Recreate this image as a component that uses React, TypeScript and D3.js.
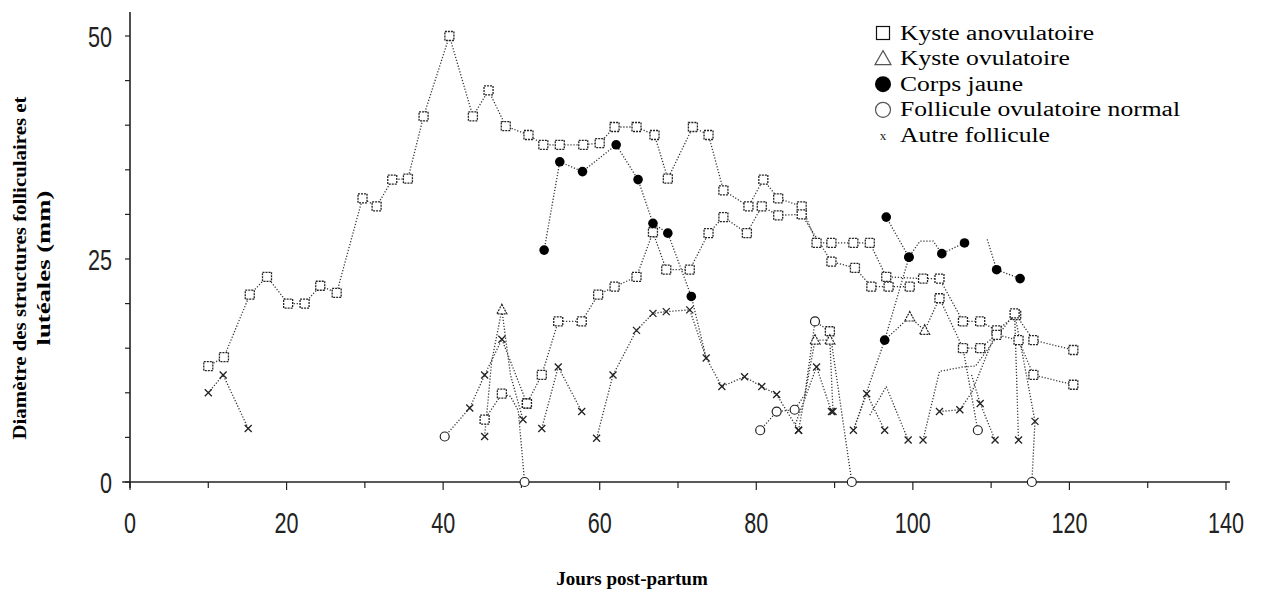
import React from "react";
import * as d3 from "d3";

type Pt = [number, number, string];

// S = kyste anovulatoire, T = kyste ovulatoire, F = corps jaune, O = follicule ovulatoire normal, X = autre follicule, "-" = no marker
const serieA: Pt[] = [[10,13,"S"],[12,14,"S"],[15.3,21,"S"],[17.5,23,"S"],[20.2,20,"S"],[22.3,20,"S"],[24.3,22,"S"],[26.4,21.2,"S"],[29.7,31.8,"S"],[31.5,30.9,"S"],[33.5,33.9,"S"],[35.5,34,"S"],[37.5,41,"S"],[40.8,50,"S"],[43.8,41,"S"],[45.8,43.9,"S"],[48,39.9,"S"],[50.9,38.9,"S"],[52.8,37.8,"S"],[54.9,37.8,"S"],[57.9,37.8,"S"],[60,38,"S"],[61.9,39.8,"S"],[64.7,39.8,"S"],[67,38.9,"S"],[68.7,34,"S"],[71.9,39.8,"S"],[73.9,38.9,"S"],[75.8,32.7,"S"],[79,30.9,"S"],[80.9,33.9,"S"],[82.8,31.8,"S"],[85.8,30.9,"S"],[87.7,26.8,"S"],[89.6,26.8,"S"],[92.4,26.8,"S"],[94.5,26.8,"S"],[96.6,23,"S"],[101.3,22.8,"S"],[103.4,22.8,"S"],[106.4,18,"S"],[108.6,18,"S"],[110.7,17,"S"],[113.2,18.7,"S"],[115.4,15.9,"S"],[120.5,14.8,"S"]];
const serieB: Pt[] = [[50.7,8.8,"S"],[52.6,12,"S"],[54.7,18,"S"],[57.7,18,"S"],[59.8,21,"S"],[61.9,21.9,"S"],[64.7,23,"S"],[66.8,28,"S"],[68.5,23.8,"S"],[71.5,23.8,"S"],[73.9,27.9,"S"],[75.8,29.7,"S"],[78.8,27.9,"S"],[80.7,30.9,"S"],[82.8,29.9,"S"],[85.8,30,"S"],[89.6,24.7,"S"],[92.6,24,"S"],[94.7,21.9,"S"],[96.9,21.9,"S"],[99.6,21.9,"S"]];
const serieC: Pt[] = [[10,10,"X"],[11.9,12,"X"],[15.1,6,"X"]];
const serieD: Pt[] = [[40.2,5.1,"O"],[43.4,8.3,"X"],[45.3,12,"X"],[47.5,16,"X"],[50.7,8.8,"S"]];
const serieE: Pt[] = [[45.3,5.1,"X"],[46.2,13.5,"-"],[47.5,19.3,"T"],[48.6,12,"-"],[50.2,7,"X"]];
const serieF: Pt[] = [[45.3,7,"S"],[47.5,9.9,"S"],[48.6,9.6,"-"],[49.6,8,"-"],[50.4,0,"O"]];
const serieG: Pt[] = [[52.6,6,"X"],[54.7,12.9,"X"],[57.7,7.9,"X"]];
const serieH: Pt[] = [[59.6,4.9,"X"],[61.7,12,"X"],[64.7,17,"X"],[66.8,18.9,"X"],[68.5,19.1,"X"],[71.5,19.3,"X"],[73.6,13.9,"X"],[75.6,10.7,"X"],[78.5,11.8,"X"],[80.7,10.7,"X"],[82.6,9.8,"X"],[85.4,5.8,"X"]];
const serieI: Pt[] = [[52.9,26,"F"],[54.9,35.9,"F"],[57.8,34.8,"F"],[62.1,37.8,"F"],[64.9,33.9,"F"],[66.8,29,"F"],[68.7,27.9,"F"],[71.7,20.8,"F"],[73.6,13.9,"-"]];
const serieJ: Pt[] = [[80.5,5.8,"O"],[82.6,7.9,"O"],[84.9,8.1,"O"],[86.2,9.8,"-"],[87.5,18,"O"],[89.4,16.9,"S"],[92.2,0,"O"]];
const serieK: Pt[] = [[85.4,5.8,"X"],[87.5,15.9,"T"],[89.4,15.9,"T"],[89.8,7.9,"X"]];
const serieL: Pt[] = [[85,6.5,"-"],[87.7,12.9,"X"],[89.6,7.9,"X"]];
const serieM: Pt[] = [[92.4,5.8,"X"],[94.1,9.9,"X"],[96.4,5.8,"X"]];
const serieN: Pt[] = [[92.4,5.8,"-"],[96.4,15.9,"F"],[99.5,25.2,"F"]];
const serieO: Pt[] = [[94.5,7.5,"-"],[96.6,10.7,"-"],[99.4,4.7,"X"]];
const serieP: Pt[] = [[96.6,29.7,"F"],[99.5,25.2,"F"],[100.9,27,"-"],[102.6,27,"-"],[103.7,25.6,"F"],[106.6,26.8,"F"]];
const serieQ: Pt[] = [[109.5,27.2,"-"],[110.7,23.8,"F"],[113.7,22.8,"F"]];
const serieR: Pt[] = [[96.4,15.9,"-"],[99.6,18.5,"T"],[101.5,17,"T"],[103.4,20.6,"S"],[106.4,15,"S"],[108.6,15,"S"],[110.7,16.5,"S"],[113.5,15.9,"S"],[115.4,12,"S"],[120.5,10.9,"S"]];
const serieS: Pt[] = [[101.3,4.7,"X"],[103.4,12.4,"-"],[106.4,12.9,"-"],[108,13,"-"],[110.5,16,"-"],[113,18.9,"S"],[113.5,4.7,"X"]];
const serieT: Pt[] = [[103.4,7.9,"X"],[106,8.1,"X"],[107.5,10,"-"],[110.7,17,"-"]];
const serieU: Pt[] = [[107.5,12,"-"],[108.6,8.8,"X"],[110.5,4.7,"X"]];
const serieV: Pt[] = [[106.4,15,"-"],[108.3,5.8,"O"]];
const serieW: Pt[] = [[113,18.9,"-"],[114.5,12,"-"],[115.6,6.8,"X"],[115.2,0,"O"]];

const allSeries: Pt[][] = [serieA, serieB, serieC, serieD, serieE, serieF, serieG, serieH, serieI, serieJ, serieK, serieL, serieM, serieN, serieO, serieP, serieQ, serieR, serieS, serieT, serieU, serieV, serieW];

const xTicks = [0, 20, 40, 60, 80, 100, 120, 140];
const yTicks = [0, 25, 50];
const legendItems: [string, string][] = [
  ["S", "Kyste anovulatoire"],
  ["T", "Kyste ovulatoire"],
  ["F", "Corps jaune"],
  ["O", "Follicule ovulatoire normal"],
  ["X", "Autre follicule"],
];

const x = d3.scaleLinear().domain([0, 140]).range([130, 1226]);
const y = d3.scaleLinear().domain([0, 50]).range([482, 36]);

const line = d3.line<Pt>().x((d) => x(d[0])).y((d) => y(d[1]));

function Marker({ t, cx, cy }: { t: string; cx: number; cy: number }) {
  const ink = "#222";
  if (t === "S")
    return <rect x={cx - 4.5} y={cy - 4.5} width={9} height={9} fill="#fff" stroke={ink} strokeWidth={1.3} strokeDasharray="2 1" />;
  if (t === "T")
    return <path d={`M${cx},${cy - 5.5}L${cx + 5},${cy + 4}L${cx - 5},${cy + 4}Z`} fill="#fff" stroke={ink} strokeWidth={1.2} strokeDasharray="2 1" />;
  if (t === "F") return <circle cx={cx} cy={cy} r={4.8} fill="#000" />;
  if (t === "O") return <circle cx={cx} cy={cy} r={4.5} fill="#fff" stroke={ink} strokeWidth={1.2} />;
  if (t === "X")
    return <path d={`M${cx - 3.5},${cy - 3.5}L${cx + 3.5},${cy + 3.5}M${cx + 3.5},${cy - 3.5}L${cx - 3.5},${cy + 3.5}`} stroke={ink} strokeWidth={1.3} />;
  return null;
}

function LegendMarker({ t, cx, cy }: { t: string; cx: number; cy: number }) {
  if (t === "S") return <rect x={cx - 6.5} y={cy - 6.5} width={13} height={13} fill="#fff" stroke="#111" strokeWidth={1.2} />;
  if (t === "T") return <path d={`M${cx},${cy - 8}L${cx + 8},${cy + 6}L${cx - 8},${cy + 6}Z`} fill="#fff" stroke="#555" strokeWidth={1.2} />;
  if (t === "F") return <circle cx={cx} cy={cy} r={8} fill="#000" />;
  if (t === "O") return <circle cx={cx} cy={cy} r={7.5} fill="#fff" stroke="#555" strokeWidth={1.2} />;
  return (
    <text x={cx} y={cy + 5} fontSize={13} textAnchor="middle" fontFamily="'Liberation Serif', serif" fill="#222">
      x
    </text>
  );
}

export default function App() {
  const sans = "'Liberation Sans', Arial, sans-serif";
  const serif = "'Liberation Serif', 'Times New Roman', serif";
  const minorX = d3.range(0, 141, 10);
  const minorY = d3.range(0, 51, 5);
  return (
    <svg width={1264} height={592} style={{ position: "absolute", left: 0, top: 0, background: "#fff" }}>
      {/* axes */}
      <line x1={x(-1)} x2={x(140.5)} y1={y(0)} y2={y(0)} stroke="#222" strokeWidth={1.6} />
      <line x1={x(0)} x2={x(0)} y1={y(0) + 6} y2={12} stroke="#222" strokeWidth={1.6} />
      {minorX.map((v) => (
        <line key={"tx" + v} x1={x(v)} x2={x(v)} y1={y(0)} y2={y(0) + (v % 20 === 0 ? 8 : 6)} stroke="#222" strokeWidth={1.2} />
      ))}
      {minorY.map((v) => (
        <line key={"ty" + v} x1={x(0) - 5} x2={x(0)} y1={y(v)} y2={y(v)} stroke="#222" strokeWidth={1.2} />
      ))}
      {xTicks.map((v) => (
        <text key={"lx" + v} transform={`translate(${x(v)},533) scale(0.72,1)`} fontSize={30} textAnchor="middle" fontFamily={sans} fill="#222">
          {v}
        </text>
      ))}
      {yTicks.map((v) => (
        <text key={"ly" + v} transform={`translate(112,${y(v) + 10.5}) scale(0.72,1)`} fontSize={30} textAnchor="end" fontFamily={sans} fill="#222">
          {v}
        </text>
      ))}
      <text x={632} y={585} fontSize={19} fontWeight="bold" textAnchor="middle" fontFamily={serif} fill="#000">
        Jours post-partum
      </text>
      <g transform="translate(0,268) rotate(-90)">
        <text x={0} y={26} fontSize={19} fontWeight="bold" textAnchor="middle" fontFamily={serif} fill="#000" textLength={343} lengthAdjust="spacingAndGlyphs">
          Diamètre des structures folliculaires et
        </text>
        <text x={0} y={50} fontSize={19} fontWeight="bold" textAnchor="middle" fontFamily={serif} fill="#000" textLength={155} lengthAdjust="spacingAndGlyphs">
          lutéales (mm)
        </text>
      </g>
      {/* lines */}
      {allSeries.map((s, i) => (
        <path key={"p" + i} d={line(s) || ""} fill="none" stroke="#333" strokeWidth={1.3} strokeDasharray="1.2 1.8" />
      ))}
      {/* markers */}
      {allSeries.map((s, i) => (
        <g key={"m" + i}>
          {s.map((d, j) => (
            <Marker key={j} t={d[2]} cx={x(d[0])} cy={y(d[1])} />
          ))}
        </g>
      ))}
      {/* legend */}
      {legendItems.map((it, i) => (
        <g key={"lg" + i}>
          <LegendMarker t={it[0]} cx={883} cy={33 + i * 25.6} />
          <text transform={`translate(900,${33 + i * 25.6 + 6.5}) scale(1.28,1)`} fontSize={20} fontFamily={serif} fill="#000">
            {it[1]}
          </text>
        </g>
      ))}
    </svg>
  );
}
